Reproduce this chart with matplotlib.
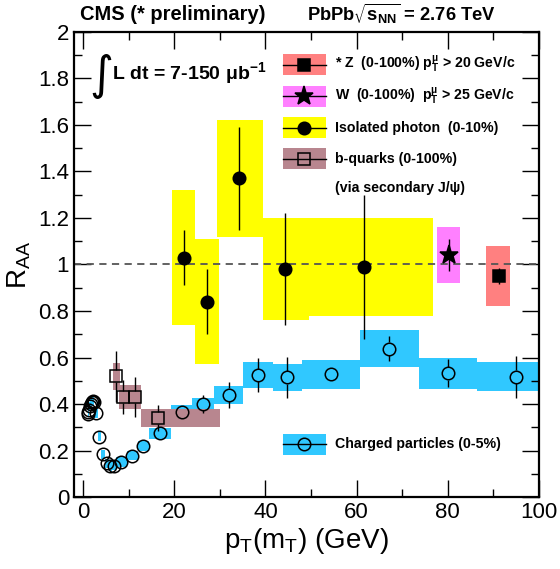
import numpy as np
import matplotlib
matplotlib.use("Agg")
import matplotlib.pyplot as plt
from matplotlib.patches import Rectangle

plt.rcParams['font.family'] = ['Liberation Sans', 'DejaVu Sans']
plt.rcParams['mathtext.default'] = 'regular'

# charged particles (0-5%)
ch_x = [1.05, 1.15, 1.3, 1.5, 1.7, 1.9, 2.1, 2.3, 2.8, 3.6, 4.4, 5.2, 6.0, 6.8, 8.4, 10.8, 13.2,
        16.8, 21.6, 26.4, 32.0, 38.4, 44.8, 54.4, 67.2, 80.0, 95.0]
ch_y = [0.355, 0.365, 0.375, 0.39, 0.40, 0.41, 0.415, 0.41, 0.36, 0.26, 0.184, 0.145, 0.133, 0.135,
        0.15, 0.178, 0.22, 0.274, 0.367, 0.40, 0.44, 0.525, 0.515, 0.528, 0.638, 0.532, 0.518]
ch_stat = [0.005, 0.005, 0.005, 0.005, 0.005, 0.005, 0.005, 0.005, 0.005, 0.005, 0.005, 0.005, 0.005,
           0.005, 0.005, 0.008, 0.01, 0.015, 0.015, 0.04, 0.055, 0.072, 0.087, 0.02, 0.055, 0.06, 0.09]
ch_sys = [0.02, 0.02, 0.02, 0.02, 0.02, 0.02, 0.02, 0.02, 0.02, 0.02, 0.02, 0.02, 0.02, 0.02,
          0.02, 0.02, 0.02, 0.024, 0.03, 0.028, 0.039, 0.054, 0.057, 0.062, 0.079, 0.066, 0.063]
ch_lo = [1.0, 1.1, 1.2, 1.4, 1.6, 1.8, 2.0, 2.2, 2.4, 3.2, 4.0, 4.8, 5.6, 6.4, 7.2, 9.6, 12.0,
         14.4, 19.2, 24.0, 28.8, 35.2, 41.6, 48.0, 60.8, 73.6, 86.4]
ch_hi = [1.1, 1.2, 1.4, 1.6, 1.8, 2.0, 2.2, 2.4, 3.2, 4.0, 4.8, 5.6, 6.4, 7.2, 9.6, 12.0, 14.4,
         19.2, 24.0, 28.8, 35.2, 41.6, 48.0, 60.8, 73.6, 86.4, 103.6]

# isolated photon (0-10%)
ph_x = [22.1, 27.2, 34.2, 44.4, 61.6]
ph_y = [1.03, 0.84, 1.37, 0.98, 0.99]
ph_stat = [0.12, 0.14, 0.22, 0.24, 0.31]
ph_sys = [0.29, 0.27, 0.25, 0.22, 0.21]
ph_lo = [19.6, 24.6, 29.4, 39.5, 49.5]
ph_hi = [24.6, 29.8, 39.5, 49.5, 76.8]

# b-quarks (0-100%)
b_x = [7.2, 8.8, 11.3, 16.4]
b_y = [0.52, 0.43, 0.43, 0.34]
b_stat = [0.11, 0.073, 0.088, 0.057]
b_sys = [0.058, 0.05, 0.05, 0.04]
b_lo = [6.6, 7.9, 10.3, 12.8]
b_hi = [8.0, 10.3, 12.8, 30.0]

# W and Z
w_x, w_y, w_stat, w_sys, w_lo, w_hi = [80.3], [1.04], [0.07], [0.12], [77.7], [82.8]
z_x, z_y, z_stat, z_sys, z_lo, z_hi = [91.2], [0.95], [0.033], [0.13], [88.5], [93.6]

c_ch = '#30c8ff'
c_ph = '#ffff00'
c_b = '#b8868f'
c_w = '#ff80ff'
c_z = '#ff8080'

fig = plt.figure(figsize=(5.6, 5.69), dpi=100)
ax = fig.add_axes([0.132, 0.1265, 0.8303, 0.8173])


def boxes(x_lo, x_hi, y, sys, color, z):
    lo = np.array(x_lo)
    hi = np.array(x_hi)
    y = np.array(y)
    s = np.array(sys)
    ax.bar(lo, 2 * s, width=hi - lo, bottom=y - s, align='edge', color=color, lw=0, zorder=z)


def points(x, y, err, marker, ms, mfc, gap):
    # error bars stop at the marker edge, like ROOT does
    x = np.array(x)
    y = np.array(y)
    e = np.array(err)
    keep = e > gap
    ax.vlines(x[keep], (y + gap)[keep], (y + e)[keep], color='black', lw=1, zorder=3)
    ax.vlines(x[keep], (y - e)[keep], (y - gap)[keep], color='black', lw=1, zorder=3)
    ax.plot(x, y, ls='none', marker=marker, ms=ms, mfc=mfc, mec='black', mew=1.1, zorder=4)


boxes(ch_lo, ch_hi, ch_y, ch_sys, c_ch, 1)
boxes(ph_lo, ph_hi, ph_y, ph_sys, c_ph, 1.2)
boxes(b_lo, b_hi, b_y, b_sys, c_b, 1.5)
boxes(w_lo, w_hi, w_y, w_sys, c_w, 1.2)
boxes(z_lo, z_hi, z_y, z_sys, c_z, 1.2)

ax.axhline(1.0, color='#555555', ls=(0, (4, 3)), lw=1.3, zorder=2)

points(ch_x, ch_y, ch_stat, 'o', 9, 'none', 0.027)
points(ph_x, ph_y, ph_stat, 'o', 9, 'black', 0.0)
points(b_x, b_y, b_stat, 's', 9, 'none', 0.027)
points(w_x, w_y, w_stat, '*', 14, 'black', 0.0)
points(z_x, z_y, z_stat, 's', 8, 'black', 0.0)

ax.set_xlim(-2, 100)
ax.set_ylim(0, 2)
ax.set_xticks([0, 20, 40, 60, 80, 100])
ax.set_xticks(np.arange(0, 101, 10), minor=True)
ax.set_yticks(np.arange(0, 2.01, 0.2))
ax.set_yticks(np.arange(0, 2.01, 0.1), minor=True)
ax.set_yticklabels(['0', '0.2', '0.4', '0.6', '0.8', '1', '1.2', '1.4', '1.6', '1.8', '2'])
ax.tick_params(which='both', direction='in', top=True, right=True, labelsize=16, width=1)
ax.tick_params(which='major', length=12)
ax.tick_params(which='minor', length=6)
for sp in ax.spines.values():
    sp.set_linewidth(1.6)

ax.set_xlabel('$p_T(m_T)$ (GeV)', fontsize=20, labelpad=2)
ax.set_ylabel('$R_{AA}$', fontsize=20, labelpad=4)

# legend built by hand
items = [
    (0.930, c_z, 's', 'black', 8, '* Z  (0-100%) $p_T^{\\mu}$ > 20 GeV/c'),
    (0.862, c_w, '*', 'black', 14, 'W  (0-100%)  $p_T^{\\mu}$ > 25 GeV/c'),
    (0.794, c_ph, 'o', 'black', 9, 'Isolated photon  (0-10%)'),
    (0.727, c_b, 's', 'none', 9, 'b-quarks (0-100%)'),
    (0.113, c_ch, 'o', 'none', 9, 'Charged particles (0-5%)'),
]
for yy, col, mk, mf, ms, lab in items:
    ax.add_patch(Rectangle((0.449, yy - 0.0225), 0.093, 0.045, transform=ax.transAxes,
                           color=col, lw=0, zorder=4))
    ax.plot([0.449, 0.542], [yy, yy], color='black', lw=1, transform=ax.transAxes, zorder=5)
    ax.plot([0.4955], [yy], marker=mk, ms=ms, mfc=mf, mec='black', mew=1.1, ls='none',
            transform=ax.transAxes, zorder=6)
    ax.text(0.561, yy, lab, transform=ax.transAxes, fontsize=10.2, fontweight='bold',
            va='center', ha='left')

ax.text(0.561, 0.665, '(via secondary J/ψ)', transform=ax.transAxes, fontsize=10.2,
        fontweight='bold', va='center', ha='left')

ax.text(0.058, 0.905, '∫', transform=ax.transAxes, fontsize=33, family='DejaVu Sans',
        va='center', ha='center')
ax.text(0.081, 0.912, 'L dt = 7-150 μb$^{-1}$', transform=ax.transAxes, fontsize=14,
        fontweight='bold', va='center', ha='left')

fig.text(0.143, 0.975, 'CMS (* preliminary)', fontsize=14.5, fontweight='bold', va='center')
fig.text(0.548, 0.975, 'PbPb$\\sqrt{s_{NN}}$ = 2.76 TeV', fontsize=13.2, fontweight='bold',
         va='center')

fig.savefig('out.png', dpi=100)
